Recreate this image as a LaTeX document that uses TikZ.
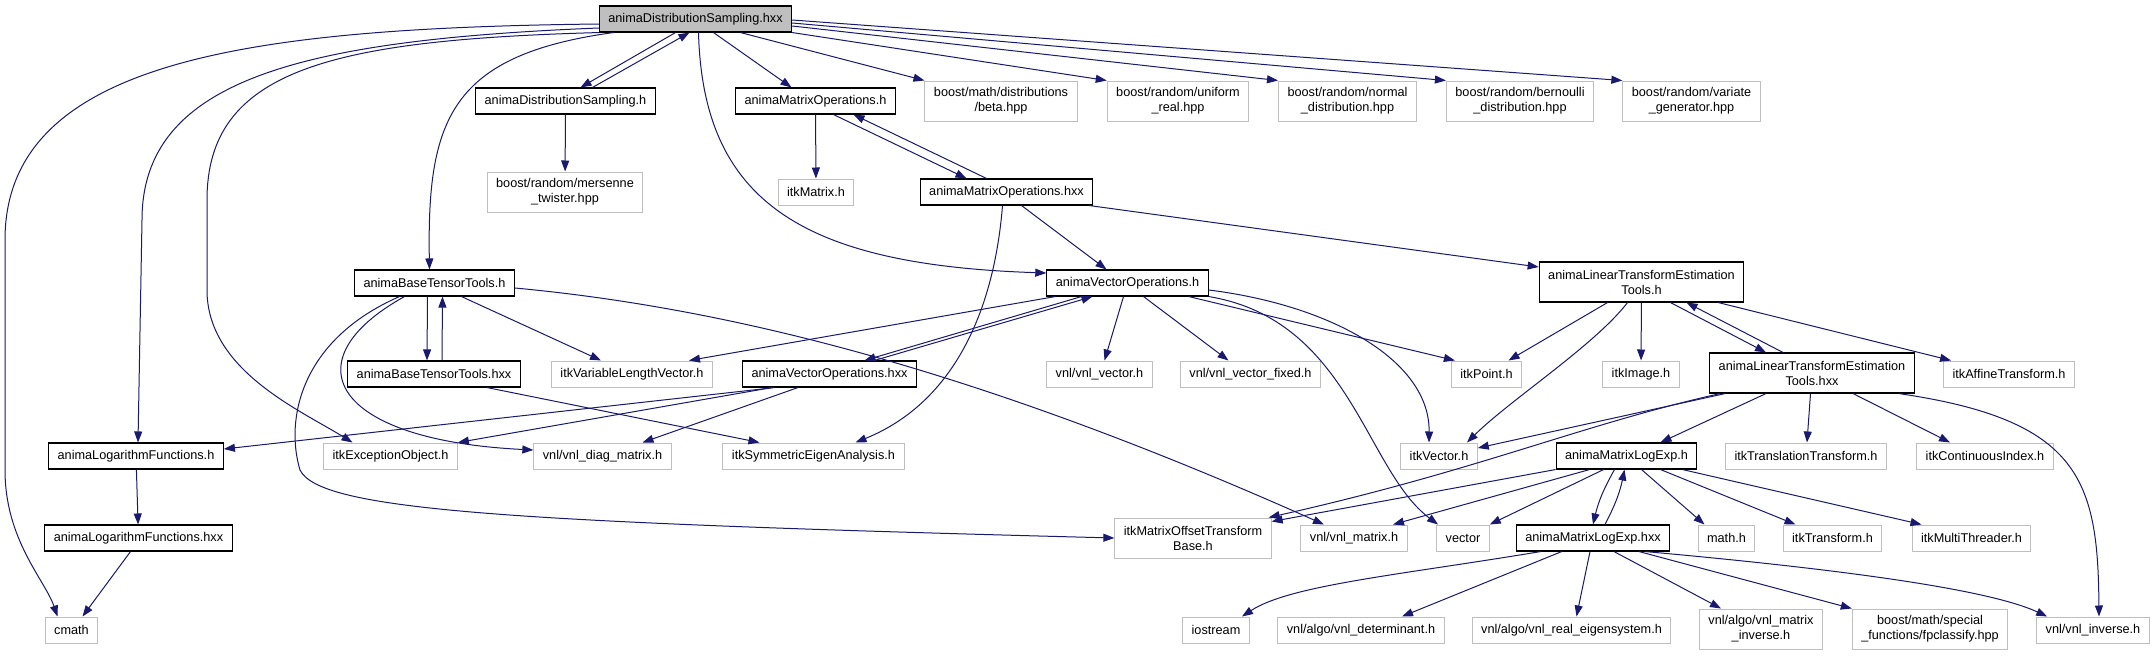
\documentclass[tikz,border=0pt]{standalone}
\usepackage{fontspec}
\setmainfont{Liberation Sans}
\usetikzlibrary{arrows.meta}
\definecolor{mnblue}{HTML}{191970}

\begin{document}
\begin{tikzpicture}[x=1pt, y=1pt,
	every node/.style={font=\fontsize{12.7}{15}\selectfont},
	hdr/.style={draw=black, line width=1.1pt, fill=white, inner xsep=9pt, inner ysep=3pt, minimum height=26pt, align=center},
	extf/.style={hdr, draw=black!25, line width=1pt},
	topf/.style={hdr, fill=black!25},
	tall/.style={minimum height=40pt},
	inc/.style={draw=mnblue, line width=1pt, -{Triangle[length=11pt,width=8pt]}}]
	\fill[white] (0,0) rectangle (2156,-656);
	\node[topf] (root) at (695.5,-19) {animaDistributionSampling.hxx};
	\node[hdr] (dsH) at (565.5,-101) {animaDistributionSampling.h};
	\node[hdr] (matH) at (815.5,-101) {animaMatrixOperations.h};
	\node[extf, tall] (beta) at (1001,-101) {boost/math/distributions\\/beta.hpp};
	\node[extf, tall] (uniReal) at (1178,-101) {boost/random/uniform\\\_real.hpp};
	\node[extf, tall] (normDist) at (1347.5,-101) {boost/random/normal\\\_distribution.hpp};
	\node[extf, tall] (bernDist) at (1520,-101) {boost/random/bernoulli\\\_distribution.hpp};
	\node[extf, tall] (varGen) at (1691.5,-101) {boost/random/variate\\\_generator.hpp};
	\node[extf, tall] (mersenne) at (565,-192) {boost/random/mersenne\\\_twister.hpp};
	\node[extf] (itkMatrix) at (816,-192) {itkMatrix.h};
	\node[hdr] (matHxx) at (1006.5,-192) {animaMatrixOperations.hxx};
	\node[hdr] (bttH) at (434.5,-283) {animaBaseTensorTools.h};
	\node[hdr] (vecH) at (1127.5,-283) {animaVectorOperations.h};
	\node[hdr, tall] (ltetH) at (1641.5,-282) {animaLinearTransformEstimation\\Tools.h};
	\node[hdr] (bttHxx) at (434,-374) {animaBaseTensorTools.hxx};
	\node[extf] (varLen) at (632,-374) {itkVariableLengthVector.h};
	\node[hdr] (vecHxx) at (829.5,-374) {animaVectorOperations.hxx};
	\node[extf] (vnlVec) at (1099.5,-374) {vnl/vnl\_vector.h};
	\node[extf] (vnlVecFixed) at (1250.5,-374) {vnl/vnl\_vector\_fixed.h};
	\node[extf] (itkPoint) at (1486.5,-374) {itkPoint.h};
	\node[extf] (itkImage) at (1641,-374) {itkImage.h};
	\node[hdr, tall] (ltetHxx) at (1812,-373) {animaLinearTransformEstimation\\Tools.hxx};
	\node[extf] (affine) at (2009,-374) {itkAffineTransform.h};
	\node[hdr] (lfH) at (136,-456) {animaLogarithmFunctions.h};
	\node[extf] (except) at (390.5,-456) {itkExceptionObject.h};
	\node[extf] (diag) at (602.5,-456) {vnl/vnl\_diag\_matrix.h};
	\node[extf] (symEig) at (813.5,-456) {itkSymmetricEigenAnalysis.h};
	\node[extf] (itkVector) at (1439,-456) {itkVector.h};
	\node[hdr] (mlH) at (1626.5,-456) {animaMatrixLogExp.h};
	\node[extf] (transl) at (1806,-456) {itkTranslationTransform.h};
	\node[extf] (contIdx) at (1985,-456) {itkContinuousIndex.h};
	\node[hdr] (lfHxx) at (138.5,-538) {animaLogarithmFunctions.hxx};
	\node[extf, tall] (mobH) at (1193,-538) {itkMatrixOffsetTransform\\Base.h};
	\node[extf] (vnlMat) at (1354,-538) {vnl/vnl\_matrix.h};
	\node[extf] (vectorH) at (1463,-538) {vector};
	\node[hdr] (mlHxx) at (1593,-538) {animaMatrixLogExp.hxx};
	\node[extf] (mathH) at (1726.5,-538) {math.h};
	\node[extf] (itkTransform) at (1832.5,-538) {itkTransform.h};
	\node[extf] (multiThr) at (1971.5,-538) {itkMultiThreader.h};
	\node[extf] (cmath) at (71.5,-630) {cmath};
	\node[extf] (iostream) at (1216,-630) {iostream};
	\node[extf] (determ) at (1361,-630) {vnl/algo/vnl\_determinant.h};
	\node[extf] (realEig) at (1571.5,-630) {vnl/algo/vnl\_real\_eigensystem.h};
	\node[extf, tall] (matInv) at (1761,-629) {vnl/algo/vnl\_matrix\\\_inverse.h};
	\node[extf, tall] (fpclass) at (1930,-629) {boost/math/special\\\_functions/fpclassify.hpp};
	\node[extf] (vnlInv) at (2093,-630) {vnl/vnl\_inverse.h};

	\draw[inc] ([xshift=-20]root.south) -- ([xshift=15]dsH.north);
	\draw[inc] ([xshift=27]dsH.north) -- ([xshift=-6]root.south);
	\draw[inc] (dsH) -- (mersenne);
	\draw[inc] ([xshift=18]root.south) -- ([xshift=-24]matH.north);
	\draw[inc] ([xshift=45]root.south) -- (beta.north west);
	\draw[inc] (root.south east) -- (uniReal.north west);
	\draw[inc] ([yshift=-7]root.east) -- (normDist.north west);
	\draw[inc] ([yshift=-4]root.east) -- (bernDist.north west);
	\draw[inc] ([yshift=-1]root.east) -- (varGen.north west);
	\draw[inc] ([xshift=3]root.south) .. controls (703,-200) and (800,-265) .. ([yshift=10]vecH.west);
	\draw[inc] ([xshift=-82]root.south) .. controls (450,-55) and (427,-120) .. ([xshift=-5]bttH.north);
	\draw[inc] (root.south west) .. controls (330,-40) and (207,-70) .. (207,-200) -- (207,-290) .. controls (207,-370) and (300,-410) .. ([xshift=-38]except.north);
	\draw[inc] ([yshift=-9]root.west) .. controls (300,-40) and (142,-80) .. (142,-220) -- ([xshift=2]lfH.north);
	\draw[inc] ([yshift=-5]root.west) .. controls (250,-28) and (5,-60) .. (5,-240) -- (5,-470) .. controls (5,-540) and (45,-580) .. ([xshift=-14]cmath.north);

	\draw[inc] (matH) -- (itkMatrix);
	\draw[inc] ([xshift=18]matH.south) -- ([xshift=-40]matHxx.north);
	\draw[inc] ([xshift=-20]matHxx.north) -- ([xshift=38]matH.south);
	\draw[inc] ([xshift=15]matHxx.south) -- ([xshift=-21]vecH.north);
	\draw[inc] ([xshift=-4]matHxx.south east) -- ([yshift=15]ltetH.west);
	\draw[inc] ([xshift=-4]matHxx.south) .. controls (995,-300) and (960,-400) .. ([xshift=42]symEig.north);

	\draw[inc] ([xshift=-7]bttH.south) -- ([xshift=-7]bttHxx.north);
	\draw[inc] ([xshift=8]bttHxx.north) -- ([xshift=8]bttH.south);
	\draw[inc] ([xshift=27]bttH.south) -- ([xshift=-31]varLen.north);
	\draw[inc] ([yshift=-5]bttH.east) .. controls (750,-310) and (1000,-380) .. ([xshift=-30]vnlMat.north);
	\draw[inc] ([xshift=-35]bttH.south) .. controls (300,-340) and (285,-420) .. (300,-470) .. controls (320,-510) and (500,-522) .. (mobH.west);
	\draw[inc] ([xshift=-30]bttH.south) .. controls (290,-360) and (330,-440) .. ([yshift=6]diag.west);
	\draw[inc] ([xshift=53]bttHxx.south) -- ([xshift=-54]symEig.north);

	\draw[inc] ([xshift=9]vecH.south west) -- ([xshift=57]varLen.north);
	\draw[inc] ([xshift=-46]vecH.south) -- ([xshift=35]vecHxx.north);
	\draw[inc] ([xshift=45]vecHxx.north) -- ([xshift=-35]vecH.south);
	\draw[inc] ([xshift=-4]vecH.south) -- ([xshift=5]vnlVec.north);
	\draw[inc] ([xshift=16]vecH.south) -- ([xshift=-22]vnlVecFixed.north);
	\draw[inc] ([xshift=-20]vecH.south east) -- ([xshift=4]itkPoint.north west);
	\draw[inc] ([yshift=-7]vecH.east) .. controls (1330,-305) and (1430,-360) .. ([xshift=-10]itkVector.north);
	\draw[inc] (vecH.south east) .. controls (1350,-320) and (1365,-470) .. ([xshift=-25]vectorH.north);

	\draw[inc] ([xshift=33]vecHxx.south west) -- ([yshift=7]lfH.east);
	\draw[inc] ([xshift=30]vecHxx.south west) -- (except.north east);
	\draw[inc] ([xshift=56]vecHxx.south west) -- ([xshift=40]diag.north);

	\draw[inc] ([xshift=-34]ltetH.south) -- ([xshift=22]itkPoint.north);
	\draw[inc] ([xshift=-14]ltetH.south) .. controls (1595,-345) and (1510,-400) .. ([xshift=28]itkVector.north);
	\draw[inc] (ltetH) -- (itkImage);
	\draw[inc] ([xshift=29]ltetH.south) -- ([xshift=-46]ltetHxx.north);
	\draw[inc] ([xshift=-29]ltetHxx.north) -- ([xshift=45]ltetH.south);
	\draw[inc] ([xshift=-26]ltetH.south east) -- ([xshift=8]affine.north west);

	\draw[inc] ([xshift=16]ltetHxx.south west) -- ([yshift=8]itkVector.east);
	\draw[inc] ([xshift=11]ltetHxx.south west) .. controls (1580,-425) and (1480,-470) .. ([xshift=-3]mobH.north east);
	\draw[inc] ([xshift=-46]ltetHxx.south) -- ([xshift=34]mlH.north);
	\draw[inc] (ltetHxx) -- (transl);
	\draw[inc] ([xshift=41]ltetHxx.south) -- ([xshift=-35]contIdx.north);
	\draw[inc] ([xshift=-16]ltetHxx.south east) .. controls (2080,-420) and (2098,-480) .. ([xshift=6]vnlInv.north);

	\draw[inc] (mlH.south west) -- ([yshift=-4]mobH.north east);
	\draw[inc] ([xshift=34]mlH.south west) -- ([xshift=39]vnlMat.north);
	\draw[inc] ([xshift=48]mlH.south west) -- (vectorH.north east);
	\draw[inc] ([xshift=-12]mlH.south) to[bend right=8] (mlHxx.north);
	\draw[inc] ([xshift=12]mlHxx.north) to[bend right=8] ([xshift=-2]mlH.south);
	\draw[inc] ([xshift=15]mlH.south) -- ([xshift=-22]mathH.north);
	\draw[inc] ([xshift=34]mlH.south) -- ([xshift=-37]itkTransform.north);
	\draw[inc] ([xshift=-15]mlH.south east) -- ([xshift=-50]multiThr.north);

	\draw[inc] ([xshift=25]mlHxx.south west) .. controls (1400,-575) and (1290,-585) .. ([xshift=26]iostream.north);
	\draw[inc] ([xshift=46]mlHxx.south west) -- ([xshift=41]determ.north);
	\draw[inc] ([xshift=-3]mlHxx.south) -- ([xshift=5]realEig.north);
	\draw[inc] ([xshift=21]mlHxx.south) -- ([xshift=-40]matInv.north);
	\draw[inc] ([xshift=46]mlHxx.south) -- (fpclass.north west);
	\draw[inc] ([xshift=-25]mlHxx.south east) .. controls (1850,-570) and (1990,-590) .. ([xshift=11]vnlInv.north west);

	\draw[inc] (lfH) -- (lfHxx);
	\draw[inc] ([xshift=-8]lfHxx.south) -- ([xshift=11]cmath.north);
\end{tikzpicture}
\end{document}
